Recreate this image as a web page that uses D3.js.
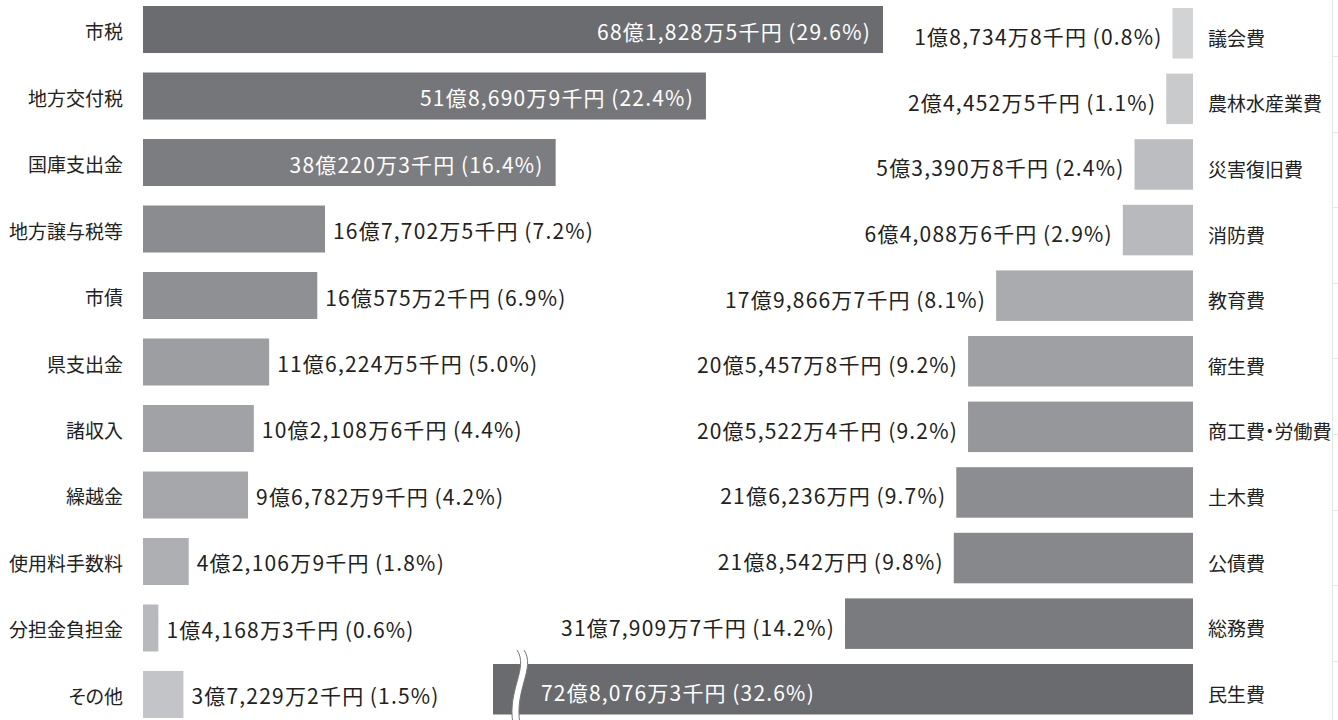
<!DOCTYPE html>
<html>
<head>
<meta charset="utf-8">
<script src="https://cdn.jsdelivr.net/npm/d3@7"></script>
<style>
  body { margin: 0; background: #fff; }
  svg { display: block; font-family: "Noto Sans CJK JP", "Noto Sans", sans-serif; font-feature-settings: "palt"; }
</style>
</head>
<body>
<div id="chart"></div>
<script>
// revenue (歳入), values in 千円
const revenueCats = ["市税", "地方交付税", "国庫支出金", "地方譲与税等", "市債", "県支出金", "諸収入", "繰越金", "使用料手数料", "分担金負担金", "その他"];
const revenueVals = [6818285, 5186909, 3802203, 1677025, 1605752, 1162245, 1021086, 967829, 421069, 141683, 372292];
const revenuePct = [29.6, 22.4, 16.4, 7.2, 6.9, 5.0, 4.4, 4.2, 1.8, 0.6, 1.5];

// expenditure (歳出), values in 千円
const expenseCats = ["議会費", "農林水産業費", "災害復旧費", "消防費", "教育費", "衛生費", "商工費・労働費", "土木費", "公債費", "総務費", "民生費"];
const expenseVals = [187348, 244525, 533908, 640886, 1798667, 2054578, 2055224, 2162360, 2185420, 3179097, 7280763];
const expensePct = [0.8, 1.1, 2.4, 2.9, 8.1, 9.2, 9.2, 9.7, 9.8, 14.2, 32.6];

const revenueColors = ["#6b6c70", "#75767a", "#7c7d81", "#8b8c90", "#8f9094", "#9d9ea2", "#a1a2a6", "#a6a7ab", "#aeafb3", "#b8b9bd", "#c3c4c7"];
const expenseColors = ["#d2d3d5", "#c9cacc", "#bcbdc0", "#b8b9bc", "#aaabae", "#9fa0a3", "#96979b", "#8c8d91", "#87888c", "#7a7b7f", "#6a6b6f"];

const width = 1338, height = 720;
const fontSize = 21;

// 6818285 -> "68億1,828万5千円"
function yen(v) {
  const oku = Math.floor(v / 100000);
  const man = Math.floor((v % 100000) / 10);
  const sen = v % 10;
  return oku + "億" + d3.format(",")(man) + "万" + (sen ? sen + "千" : "") + "円";
}
const label = (v, p) => yen(v) + "\u2009(" + p.toFixed(1) + "%)";

const svg = d3.select("#chart").append("svg")
    .attr("width", width)
    .attr("height", height);

// faint frame on the right edge
const edge = svg.append("g").attr("stroke", "#e6e6e6").attr("stroke-width", 1);
edge.append("line").attr("x1", 1332.5).attr("x2", 1332.5).attr("y1", 0).attr("y2", height);
d3.range(9).forEach(i => {
  const y = Math.round(56 + i * 75.6) + 0.5;
  edge.append("line").attr("x1", 1332).attr("x2", width).attr("y1", y).attr("y2", y);
});

// ---- left: revenue ----
const yL = d3.scaleBand().domain(revenueCats).range([6, 718]).paddingInner(0.293).paddingOuter(0);
const xL = d3.scaleLinear().domain([0, revenueVals[0]]).range([143, 883]);
const inside = 3; // first three revenue bars carry their label inside

const gL = svg.append("g");
gL.selectAll("rect")
  .data(revenueCats)
  .join("rect")
    .attr("x", xL(0))
    .attr("y", d => yL(d))
    .attr("width", (d, i) => xL(revenueVals[i]) - xL(0))
    .attr("height", yL.bandwidth())
    .attr("fill", (d, i) => revenueColors[i]);

gL.selectAll("text.cat")
  .data(revenueCats)
  .join("text")
    .attr("class", "cat")
    .attr("x", 123)
    .attr("y", d => yL(d) + yL.bandwidth() / 2 + 1)
    .attr("text-anchor", "end")
    .attr("dominant-baseline", "central")
    .attr("font-size", 19)
    .attr("fill", "#222")
    .text(d => d);

gL.selectAll("text.val")
  .data(revenueCats)
  .join("text")
    .attr("class", "val")
    .attr("x", (d, i) => i < inside ? xL(revenueVals[i]) - 12 : xL(revenueVals[i]) + 8)
    .attr("y", d => yL(d) + yL.bandwidth() / 2 + 1)
    .attr("text-anchor", (d, i) => i < inside ? "end" : "start")
    .attr("dominant-baseline", "central")
    .attr("font-size", fontSize)
    .attr("letter-spacing", 1.2)
    .attr("fill", (d, i) => i < inside ? "#fff" : "#222")
    .text((d, i) => label(revenueVals[i], revenuePct[i]));

// ---- right: expenditure ----
const yR = d3.scaleBand().domain(expenseCats).range([8, 714.5]).paddingInner(0.23).paddingOuter(0);
const xR = d3.scaleLinear().domain([0, expenseVals[9]]).range([1193, 845]);
const breakX = 493; // bars longer than this are cut with a wavy break
const last = expenseCats.length - 1;

const gR = svg.append("g");
gR.selectAll("rect")
  .data(expenseCats)
  .join("rect")
    .attr("x", (d, i) => Math.max(xR(expenseVals[i]), breakX))
    .attr("y", d => yR(d))
    .attr("width", (d, i) => xR(0) - Math.max(xR(expenseVals[i]), breakX))
    .attr("height", yR.bandwidth())
    .attr("fill", (d, i) => expenseColors[i]);

gR.selectAll("text.cat")
  .data(expenseCats)
  .join("text")
    .attr("class", "cat")
    .attr("x", 1208)
    .attr("y", d => yR(d) + yR.bandwidth() / 2 + 4)
    .attr("text-anchor", "start")
    .attr("dominant-baseline", "central")
    .attr("font-size", 19)
    .attr("fill", "#222")
    .text(d => d);

gR.selectAll("text.val")
  .data(expenseCats)
  .join("text")
    .attr("class", "val")
    .attr("x", (d, i) => i === last ? breakX + 48 : xR(expenseVals[i]) - 10)
    .attr("y", d => yR(d) + yR.bandwidth() / 2 + 3)
    .attr("text-anchor", (d, i) => i === last ? "start" : "end")
    .attr("dominant-baseline", "central")
    .attr("font-size", fontSize)
    .attr("letter-spacing", 1.2)
    .attr("fill", (d, i) => i === last ? "#fff" : "#222")
    .text((d, i) => label(expenseVals[i], expensePct[i]));

// wavy break across the longest bar
const by0 = yR(expenseCats[last]) - 14;
const by1 = height + 4;
const wave = (dx) => {
  const p = d3.path();
  p.moveTo(breakX + 24 + dx, by0);
  p.bezierCurveTo(breakX + 36 + dx, by0 + 18, breakX + 14 + dx, by0 + 40, breakX + 20 + dx, by1);
  return p.toString();
};
const p0 = d3.path();
p0.moveTo(breakX + 24, by0);
p0.bezierCurveTo(breakX + 36, by0 + 18, breakX + 14, by0 + 40, breakX + 20, by1);
p0.lineTo(breakX + 27, by1);
p0.bezierCurveTo(breakX + 21, by0 + 40, breakX + 43, by0 + 18, breakX + 31, by0);
p0.closePath();
gR.append("path").attr("d", p0.toString()).attr("fill", "#fff");
gR.append("path").attr("d", wave(0)).attr("fill", "none").attr("stroke", "#777").attr("stroke-width", 1);
gR.append("path").attr("d", wave(7)).attr("fill", "none").attr("stroke", "#777").attr("stroke-width", 1);
</script>
</body>
</html>
